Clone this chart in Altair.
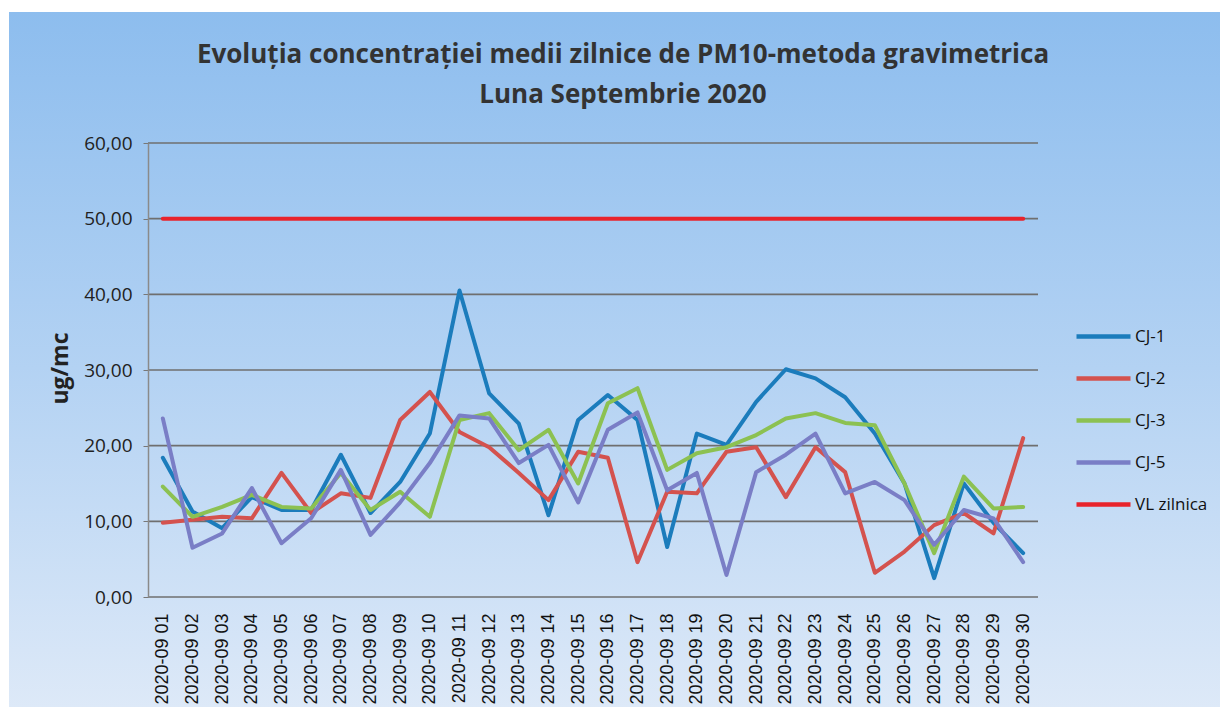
import altair as alt
import pandas as pd

days = ["2020-09 01", "2020-09 02", "2020-09 03", "2020-09 04", "2020-09 05",
        "2020-09 06", "2020-09 07", "2020-09 08", "2020-09 09", "2020-09 10",
        "2020-09 11", "2020-09 12", "2020-09 13", "2020-09 14", "2020-09 15",
        "2020-09 16", "2020-09 17", "2020-09 18", "2020-09 19", "2020-09 20",
        "2020-09 21", "2020-09 22", "2020-09 23", "2020-09 24", "2020-09 25",
        "2020-09 26", "2020-09 27", "2020-09 28", "2020-09 29", "2020-09 30"]

cj1 = [18.4, 11.3, 9.1, 13.2, 11.5, 11.5, 18.8, 11.1, 15.2, 21.6,
       40.5, 26.9, 22.9, 10.8, 23.4, 26.7, 23.4, 6.6, 21.6, 20.1,
       25.8, 30.1, 28.9, 26.4, 21.6, 15.0, 2.5, 15.0, 9.8, 5.8]
cj2 = [9.8, 10.2, 10.6, 10.4, 16.4, 11.1, 13.7, 13.1, 23.4, 27.1,
       21.8, 19.8, 16.4, 12.8, 19.2, 18.4, 4.6, 13.9, 13.7, 19.2,
       19.8, 13.2, 19.8, 16.5, 3.2, 6.0, 9.5, 11.1, 8.4, 21.0]
cj3 = [14.6, 10.6, 11.9, 13.5, 11.9, 11.7, 16.4, 11.5, 13.9, 10.6,
       23.4, 24.3, 19.4, 22.1, 15.0, 25.6, 27.6, 16.8, 19.0, 19.8,
       21.4, 23.6, 24.3, 23.0, 22.7, 15.0, 5.8, 15.9, 11.7, 11.9]
cj5 = [23.6, 6.5, 8.4, 14.4, 7.1, 10.4, 16.8, 8.2, 12.5, 17.7,
       24.0, 23.6, 17.7, 20.1, 12.5, 22.1, 24.4, 14.1, 16.4, 2.9,
       16.5, 18.8, 21.6, 13.7, 15.2, 12.8, 6.9, 11.5, 10.4, 4.6]
vl = [50.0, 50.0, 50.0, 50.0, 50.0, 50.0, 50.0, 50.0, 50.0, 50.0,
      50.0, 50.0, 50.0, 50.0, 50.0, 50.0, 50.0, 50.0, 50.0, 50.0,
      50.0, 50.0, 50.0, 50.0, 50.0, 50.0, 50.0, 50.0, 50.0, 50.0]

series_names = ["CJ-1", "CJ-2", "CJ-3", "CJ-5", "VL zilnica"]
series_colors = ["#1b7cbc", "#d4524e", "#8cc152", "#7a7ec6", "#e8232b"]
y_ticks = [0, 10, 20, 30, 40, 50, 60]

rows = []
for name, vals in zip(series_names, [cj1, cj2, cj3, cj5, vl]):
    for d, v in zip(days, vals):
        rows.append({"serie": name, "zi": d, "val": v})
df = pd.DataFrame(rows)
grid_df = pd.DataFrame({"val": y_ticks})

W, H = 890, 454

bg = alt.Chart(pd.DataFrame({"a": [0]})).mark_rect(
    fill=alt.Gradient(
        gradient="linear", x1=0, x2=0, y1=0, y2=1,
        stops=[alt.GradientStop(offset=0, color="#8dbdee"),
               alt.GradientStop(offset=0.5, color="#b3d2f3"),
               alt.GradientStop(offset=1, color="#dfeaf8")]),
    stroke=None,
).encode(x=alt.value(-139), x2=alt.value(1080), y=alt.value(-131), y2=alt.value(580))

gridlines = alt.Chart(grid_df).mark_rule(color="#6f6f6f", strokeWidth=1.6).encode(
    y=alt.Y("val:Q", scale=alt.Scale(domain=[0, 60], nice=False)),
    x=alt.value(0), x2=alt.value(W),
)

lines = alt.Chart(df).mark_line(strokeWidth=4, strokeCap="round", strokeJoin="round").encode(
    x=alt.X("zi:N", sort=days, title=None,
            scale=alt.Scale(type="point", padding=0.5),
            axis=alt.Axis(labelAngle=-90, labelFont="Liberation Sans", labelFontSize=18,
                          labelColor="#111111", ticks=False, domain=False,
                          labelPadding=16, grid=False, zindex=1)),
    y=alt.Y("val:Q", title="ug/mc",
            scale=alt.Scale(domain=[0, 60], nice=False),
            axis=alt.Axis(values=y_ticks, grid=False, zindex=1,
                          labelExpr="replace(format(datum.value, '.2f'), '.', ',')",
                          labelFont="Open Sans", labelFontSize=19, labelColor="#222222",
                          labelPadding=11, tickSize=5, tickColor="#777777",
                          domainColor="#8a8a8a", domainWidth=1.5,
                          titleFont="Open Sans", titleFontSize=23, titleFontWeight="bold",
                          titleColor="#222222", titleAngle=-90, titleX=-88, titleY=225,
                          titleBaseline="middle", titleAlign="center")),
    color=alt.Color("serie:N", sort=series_names,
                    scale=alt.Scale(domain=series_names, range=series_colors),
                    legend=alt.Legend(title=None, orient="none", legendX=926, legendY=164,
                                      symbolType="stroke", symbolSize=2916,
                                      symbolStrokeWidth=4.5, labelFont="Open Sans",
                                      labelFontSize=17, labelColor="#111111",
                                      labelOffset=2, rowPadding=3, padding=0)),
    order=alt.Order("serie:N"),
)

chart = alt.layer(bg, gridlines, lines).properties(
    width=W, height=H,
    title=alt.TitleParams(
        ["Evoluția concentrației medii zilnice de PM10-metoda gravimetrica",
         "Luna Septembrie 2020"],
        font="Open Sans", fontSize=26, fontWeight="bold", color="#333333",
        anchor="middle", dx=30, offset=0, dy=96, lineHeight=40, zindex=1),
    padding={"left": 140, "top": 135, "right": 182, "bottom": 110},
    autosize=alt.AutoSizeParams(type="none"),
).configure_view(strokeWidth=0).configure(background="#ffffff")

chart.save("out.html", embed_options={"renderer": "svg", "actions": False})
